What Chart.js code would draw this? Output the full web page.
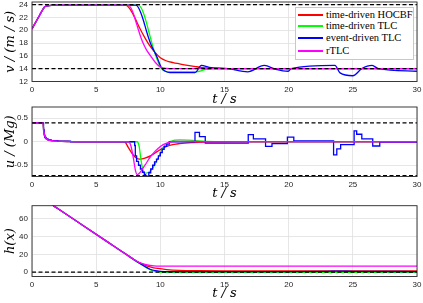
<!DOCTYPE html>
<html>
<head>
<meta charset="utf-8">
<script src="https://cdn.jsdelivr.net/npm/chart.js@4.4.1/dist/chart.umd.min.js"></script>
<style>
  html, body { margin: 0; padding: 0; background: #fff; }
  #wrap { position: relative; width: 423px; height: 303px; overflow: hidden; }
  .pane { position: absolute; left: 0; width: 423px; }
  #legend {
    position: absolute; left: 295px; top: 7px; width: 119px; height: 53px;
    box-sizing: border-box; background: #fff; border: 1px solid #c8c8c8;
    font: 10.5px "Liberation Serif", serif; color: #000;
  }
  .lg-row { position: absolute; left: 2px; height: 12px; white-space: nowrap; }
  .lg-sw { position: absolute; left: 0; top: 5px; width: 25px; height: 2px; }
  .lg-tx { position: absolute; left: 28px; top: 0; line-height: 12px; }
</style>
</head>
<body>
<div id="wrap">
  <div class="pane" style="top:0;height:106px"><canvas id="cV"></canvas></div>
  <div class="pane" style="top:100px;height:100px"><canvas id="cU"></canvas></div>
  <div class="pane" style="top:198px;height:105px"><canvas id="cH"></canvas></div>
  <div id="legend"></div>
</div>
<script>
'use strict';

/* ---------- series names / colours ---------- */
const names  = ['time-driven HOCBF', 'time-driven TLC', 'event-driven TLC', 'rTLC'];
const colors = ['#ff0000', '#00ff00', '#0000ff', '#ff00ff'];

/* ---------- axis ticks ---------- */
const tTicks = [0, 5, 10, 15, 20, 25, 30];
const vTicks = [12, 14, 16, 18, 20, 22, 24];
const uTicks = [-0.5, 0, 0.5];
const hTicks = [0, 20, 40, 60];

/* ---------- dashed limits ---------- */
const vLimits = [24, 14];
const uLimits = [0.4, -0.72];
const hLimits = [0];

/* ---------- v (m/s) ---------- */
const vStartT = [0, 0.25, 0.5, 0.75, 0.9, 1.0, 1.2, 1.5, 2.0];
const vStartY = [20.2, 21.1, 22.0, 22.9, 23.4, 23.65, 23.8, 23.88, 23.9];

const vRedT = [7.3, 7.6, 8.0, 8.4, 8.8, 9.2, 9.6, 10, 10.5, 11, 11.5, 12, 12.85, 13.5, 14.5, 16, 30];
const vRedY = [23.9, 23.4, 22.0, 20.3, 18.8, 17.5, 16.5, 15.7, 15.2, 14.95, 14.75, 14.55, 14.3, 14.12, 14.03, 14.0, 14.0];

const vGreenT = [8.3, 8.5, 8.7, 8.9, 9.1, 9.3, 9.5, 9.7, 9.9, 10.1, 10.3, 10.6, 11, 12.6, 13.0, 13.5, 14, 15, 30];
const vGreenY = [23.9, 23.5, 22.6, 21.3, 19.8, 18.3, 16.9, 15.7, 14.7, 14.0, 13.65, 13.5, 13.45, 13.45, 13.6, 13.85, 13.97, 14.0, 14.0];

const vBlueT = [8.1, 8.3, 8.5, 8.7, 8.9, 9.1, 9.3, 9.5, 9.7, 9.9, 10.1, 10.4, 10.75, 12.7, 13.2, 13.8, 15.3, 16.8, 18.1, 19.0, 19.97, 20.2, 23.6, 24.0, 25.0, 25.7, 26.5, 27.0, 30];
const vBlueY = [23.9, 23.5, 22.6, 21.4, 20.0, 18.7, 17.6, 16.8, 16.0, 15.0, 14.1, 13.6, 13.4, 13.4, 14.5, 14.2, 14.0, 13.5, 14.5, 13.9, 13.6, 14.0, 14.5, 13.35, 12.9, 14.0, 14.5, 14.0, 13.6];

const vMagT = [7.5, 7.7, 7.9, 8.1, 8.3, 8.5, 8.7, 8.9, 9.2, 9.6, 10.0, 10.5, 11, 30];
const vMagY = [23.9, 23.5, 22.6, 21.3, 20.0, 18.8, 17.8, 17.0, 16.1, 15.0, 14.25, 14.03, 14.0, 14.0];

/* ---------- u/(Mg) ---------- */
const uStartT = [0, 0.85, 0.92, 1.0, 1.1, 1.25, 1.5, 2.0, 3.0, 4.0];
const uStartY = [0.4, 0.4, 0.22, 0.12, 0.07, 0.04, 0.025, 0.012, 0.004, 0];

const uRedT = [7.2, 7.5, 7.8, 8.1, 8.4, 8.8, 9.3, 9.8, 10.3, 10.8, 11.5, 12.5, 14, 16, 30];
const uRedY = [0, -0.12, -0.25, -0.34, -0.37, -0.35, -0.29, -0.2, -0.12, -0.07, -0.04, -0.02, -0.008, 0, 0];

const uGreenT = [8.2, 8.35, 8.5, 8.65, 8.85, 9.0, 9.3, 9.6, 9.9, 10.2, 10.5, 10.8, 11.5, 12.5, 13.5, 15, 30];
const uGreenY = [0, -0.1, -0.4, -0.6, -0.67, -0.66, -0.6, -0.47, -0.3, -0.13, -0.04, 0.01, 0.04, 0.03, 0.01, 0, 0];

const uBlueT = [0, 0.9, 0.95, 1.0, 1.1, 1.25, 1.5, 2.0, 3.0, 8.0, 8.05, 8.15, 8.3, 8.45, 8.6, 8.75, 8.85, 9.1, 9.25, 9.4, 9.55, 9.7, 9.85, 10.0, 10.15, 10.3, 10.5, 10.7, 12.7, 13.05, 13.5, 16.85, 17.25, 18.2, 18.7, 19.9, 20.4, 23.5, 23.75, 24.05, 25.1, 25.3, 25.7, 26.55, 27.1, 30];
const uBlueY = [0.4, 0.25, 0.14, 0.09, 0.06, 0.04, 0.025, 0.012, 0.0, -0.08, -0.3, -0.42, -0.5, -0.58, -0.65, -0.7, -0.73, -0.66, -0.58, -0.5, -0.43, -0.37, -0.3, -0.23, -0.16, -0.1, -0.05, 0.0, 0.2, 0.11, -0.03, 0.15, 0.06, -0.1, -0.04, 0.1, 0.02, -0.28, -0.15, -0.06, 0.23, 0.16, 0.06, -0.09, -0.01, -0.01];

const uMagT = [7.5, 7.7, 7.9, 8.05, 8.2, 8.4, 8.8, 9.2, 9.6, 10.0, 10.5, 11.0, 12.0, 13.5, 30];
const uMagY = [0, -0.08, -0.35, -0.6, -0.7, -0.66, -0.5, -0.33, -0.2, -0.1, -0.03, 0.005, 0.01, 0, 0];

/* ---------- h(x) ---------- */
const hStartT = [0, 1, 2, 4, 6, 7, 7.6];
const hStartY = [89, 81.5, 71.8, 52.4, 33, 23.3, 17.5];

const hRedT = [8.0, 8.4, 8.8, 9.2, 9.8, 10.5, 11.5, 13, 15, 30];
const hRedY = [13.6, 10.4, 7.9, 6.0, 4.1, 2.8, 1.9, 1.5, 1.3, 1.2];

const hGreenT = [8.0, 8.4, 8.8, 9.2, 9.6, 10, 10.5, 12, 30];
const hGreenY = [13.5, 9.7, 6.0, 2.8, 0.9, 0.0, -0.4, -0.5, -0.4];

const hBlueT = [8.0, 8.4, 8.8, 9.2, 9.6, 10, 11, 13, 20, 23, 24, 25, 30];
const hBlueY = [13.5, 9.8, 6.3, 3.2, 1.6, 0.9, 0.5, 0.4, 0.6, 0.9, 1.1, 0.8, 0.6];

const hMagT = [8.0, 8.3, 8.6, 9.0, 9.5, 10, 11, 30];
const hMagY = [13.7, 11.3, 9.6, 8.0, 7.1, 6.8, 6.7, 6.7];

/* =============================================
   HELPERS
   ============================================= */
const TICK_FONT = { family: '"Liberation Sans", Arial, sans-serif', size: 8 };
const TITLE_FONT = { family: '"DejaVu Serif", serif', style: 'italic', size: 13, lineHeight: 1 };
const TICK_COLOR = '#262626';
const GRID_COLOR = '#e0e0e0';

function pts(ts, ys) {
  return ts.map((t, i) => ({ x: t, y: ys[i] }));
}

function series(i, ts, ys, extra) {
  return Object.assign({
    label: names[i],
    data: pts(ts, ys),
    borderColor: colors[i],
    borderWidth: 1.3,
    pointRadius: 0,
    fill: false,
    cubicInterpolationMode: 'monotone',
    order: 4 - i
  }, extra || {});
}

function limits(vals) {
  return vals.map(v => ({
    label: 'limit',
    data: pts([0, 30], [v, v]),
    borderColor: '#000',
    borderWidth: 1.2,
    borderDash: [4, 2.5],
    pointRadius: 0,
    order: 0
  }));
}

const boxPlugin = {
  id: 'box',
  afterDatasetsDraw(chart) {
    const { ctx, chartArea: a } = chart;
    ctx.save();
    ctx.strokeStyle = '#262626';
    ctx.lineWidth = 0.9;
    ctx.strokeRect(a.left, a.top, a.right - a.left, a.bottom - a.top);
    ctx.restore();
  }
};

function makeChart(id, datasets, cfg) {
  return new Chart(document.getElementById(id), {
    type: 'line',
    data: { datasets },
    plugins: [boxPlugin],
    options: {
      responsive: true,
      maintainAspectRatio: false,
      animation: false,
      layout: { padding: { top: cfg.padTop, right: 6, bottom: 0, left: 0 } },
      plugins: { legend: { display: false }, tooltip: { enabled: false } },
      scales: {
        x: {
          type: 'linear', min: 0, max: 30,
          afterBuildTicks: s => { s.ticks = tTicks.map(v => ({ value: v })); },
          afterFit: s => { s.height = cfg.xH; s.paddingLeft = 0; s.paddingRight = 0; },
          ticks: { font: TICK_FONT, color: TICK_COLOR, padding: 3, maxRotation: 0 },
          grid: { color: GRID_COLOR, lineWidth: 0.8, drawTicks: false },
          border: { display: false },
          title: { display: true, text: 't / s', font: TITLE_FONT, color: '#000', padding: { top: 0, bottom: cfg.xTitlePad } }
        },
        y: {
          type: 'linear', min: cfg.min, max: cfg.max,
          afterBuildTicks: s => { s.ticks = cfg.ticks.map(v => ({ value: v })); },
          afterFit: s => { s.width = 32; s.paddingTop = 0; s.paddingBottom = 0; },
          ticks: { font: TICK_FONT, color: TICK_COLOR, padding: 4, callback: v => String(v) },
          grid: { color: GRID_COLOR, lineWidth: 0.8, drawTicks: false },
          border: { display: false },
          title: { display: true, text: cfg.title, font: TITLE_FONT, color: '#000', padding: { top: 4, bottom: 0 } }
        }
      }
    }
  });
}

/* =============================================
   CHARTS
   ============================================= */
makeChart('cV', [
  series(0, vStartT.concat(vRedT), vStartY.concat(vRedY)),
  series(1, vStartT.concat(vGreenT), vStartY.concat(vGreenY)),
  series(2, vStartT.concat(vBlueT), vStartY.concat(vBlueY)),
  series(3, vStartT.concat(vMagT), vStartY.concat(vMagY)),
  ...limits(vLimits)
], { padTop: 2, xH: 24.5, xTitlePad: 0, min: 12, max: 24.4, ticks: vTicks, title: 'v / (m / s)' });

makeChart('cU', [
  series(0, uStartT.concat(uRedT), uStartY.concat(uRedY)),
  series(1, uStartT.concat(uGreenT), uStartY.concat(uGreenY)),
  // event-driven control is piecewise constant: hold each value until the next event
  series(2, uBlueT, uBlueY, { stepped: 'before', cubicInterpolationMode: 'default' }),
  series(3, uStartT.concat(uMagT), uStartY.concat(uMagY)),
  ...limits(uLimits)
], { padTop: 7, xH: 23.5, xTitlePad: 0, min: -0.74, max: 0.74, ticks: uTicks, title: 'u / (Mg)' });

makeChart('cH', [
  series(0, hStartT.concat(hRedT), hStartY.concat(hRedY)),
  series(1, hStartT.concat(hGreenT), hStartY.concat(hGreenY)),
  series(2, hStartT.concat(hBlueT), hStartY.concat(hBlueY)),
  series(3, hStartT.concat(hMagT), hStartY.concat(hMagY)),
  ...limits(hLimits)
], { padTop: 7.7, xH: 26.5, xTitlePad: 3, min: -5, max: 75, ticks: hTicks, title: 'h(x)' });

/* =============================================
   LEGEND
   ============================================= */
(function () {
  const box = document.getElementById('legend');
  const rowTops = [1, 12, 24, 37];
  names.forEach((n, i) => {
    const row = document.createElement('div');
    row.className = 'lg-row';
    row.style.top = rowTops[i] + 'px';
    row.innerHTML = `<span class="lg-sw" style="background-color:${colors[i]}"></span><span class="lg-tx">${n}</span>`;
    box.appendChild(row);
  });
})();
</script>
</body>
</html>
